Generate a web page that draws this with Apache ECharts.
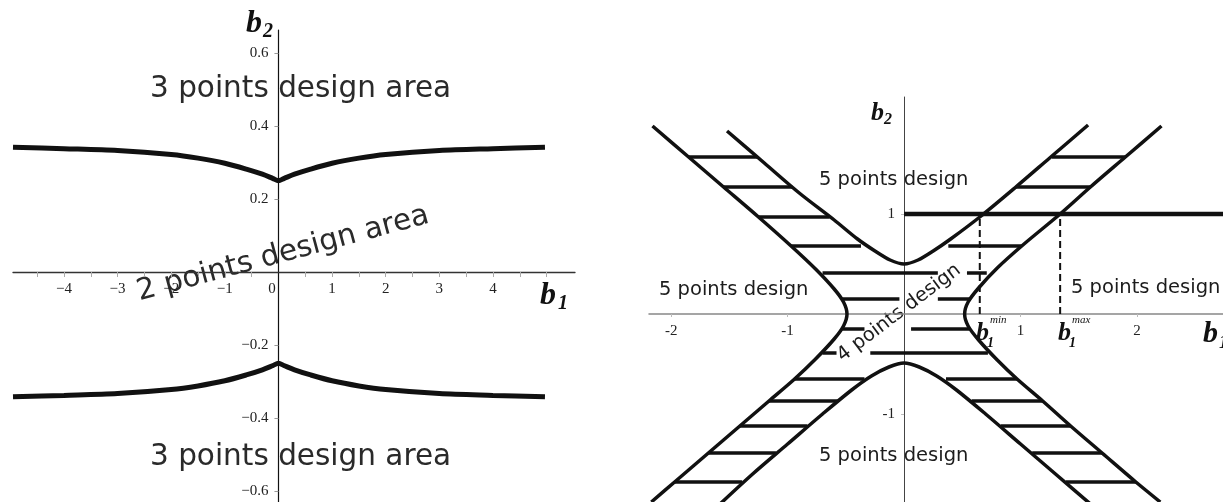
<!DOCTYPE html>
<html>
<head>
<meta charset="utf-8">
<script src="https://cdn.jsdelivr.net/npm/echarts@6/dist/echarts.min.js"></script>
<style>
html, body { margin: 0; padding: 0; background: #fff; }
#main { width: 1223px; height: 502px; }
</style>
</head>
<body>
<div id="main"></div>
<script>
// left plot: borders of the 2 / 3 points design areas
const leftB1 = [-4.95, -4, -3, -2, -1.5, -1, -0.6, -0.3, -0.1, 0, 0.1, 0.3, 0.6, 1, 1.5, 2, 3, 4, 4.97];
const upperB2 = [0.342, 0.338, 0.333, 0.322, 0.312, 0.298, 0.282, 0.268, 0.256, 0.25, 0.256, 0.268, 0.282, 0.298, 0.312, 0.322, 0.333, 0.338, 0.342];
const lowerB2 = [-0.342, -0.338, -0.333, -0.322, -0.312, -0.298, -0.282, -0.268, -0.256, -0.25, -0.256, -0.268, -0.282, -0.298, -0.312, -0.322, -0.333, -0.338, -0.342];
const leftXTicks = [-4, -3, -2, -1, 0, 1, 2, 3, 4];
const leftXMinor = [-4.5, -4, -3.5, -3, -2.5, -2, -1.5, -1, -0.5, 0.5, 1, 1.5, 2, 2.5, 3, 3.5, 4, 4.5, 5];
const leftYTicks = [-0.6, -0.4, -0.2, 0.2, 0.4, 0.6];

// right plot: 4 / 5 points design regions
const topCurveB1 = [-1.52, -1.2, -0.9, -0.6, -0.4, -0.25, -0.12, 0, 0.12, 0.25, 0.4, 0.65, 0.95, 1.25, 1.58];
const topCurveB2 = [1.83, 1.51, 1.21, 0.94, 0.75, 0.63, 0.54, 0.5, 0.54, 0.63, 0.75, 0.97, 1.26, 1.56, 1.89];
const botCurveB1 = [-1.58, -1.3, -1.0, -0.7, -0.45, -0.28, -0.13, 0, 0.13, 0.28, 0.45, 0.7, 1.0, 1.3, 1.62];
const botCurveB2 = [-1.9, -1.6, -1.3, -1.0, -0.76, -0.62, -0.53, -0.49, -0.53, -0.62, -0.76, -1.0, -1.3, -1.6, -1.92];
const leftSideB1 = [-2.16, -1.85, -1.55, -1.25, -0.97, -0.76, -0.6, -0.52, -0.49, -0.52, -0.6, -0.76, -0.94, -1.16, -1.41, -1.68, -1.97, -2.17];
const leftSideB2 = [1.88, 1.57, 1.27, 0.97, 0.68, 0.45, 0.25, 0.12, 0, -0.12, -0.25, -0.45, -0.65, -0.87, -1.12, -1.39, -1.68, -1.88];
const rightSideB1 = [2.21, 1.9, 1.6, 1.34, 1.02, 0.8, 0.64, 0.55, 0.52, 0.55, 0.64, 0.8, 0.97, 1.19, 1.43, 1.7, 1.99, 2.2];
const rightSideB2 = [1.88, 1.57, 1.27, 1.0, 0.69, 0.46, 0.26, 0.12, 0, -0.12, -0.26, -0.46, -0.65, -0.87, -1.12, -1.39, -1.68, -1.88];
// hatch strokes: one entry per segment
const hatchB2 = [1.57, 1.57, 1.27, 1.27, 0.97, 0.68, 0.68, 0.41, 0.41, 0.15, 0.15, -0.15, -0.15, -0.39, -0.39, -0.65, -0.65, -0.87, -0.87, -1.12, -1.12, -1.39, -1.39, -1.68, -1.68];
const hatchFrom = [-1.85, 1.27, -1.55, 0.96, -1.25, -0.97, 0.38, -0.7, 0.54, -0.53, 0.29, -0.53, 0.06, -0.7, -0.29, -0.94, 0.36, -1.16, 0.58, -1.41, 0.83, -1.68, 1.1, -1.97, 1.39];
const hatchTo = [-1.26, 1.9, -0.96, 1.6, -0.64, -0.37, 1.01, 0.29, 0.71, -0.04, 0.56, -0.34, 0.56, -0.58, 0.72, -0.34, 0.97, -0.57, 1.19, -0.83, 1.43, -1.1, 1.7, -1.39, 1.99];
const levelB2 = 1;
const levelFrom = 0;
const levelTo = 2.91;
const limitB1 = [0.65, 1.34]; // b1 min, b1 max
const rightXTicks = [-2, -1, 1, 2];
const rightYTicks = [-1, 1];

const zip = (xs, ys) => xs.map((x, i) => [x, ys[i]]);
const serif = 'Liberation Serif';
const sans = 'DejaVu Sans';

// grid boxes (px) and the axis ranges they hold
const G1 = { left: 13, top: 30, width: 562, height: 472 };
const X1 = [-4.95, 5.53], Y1 = [-0.63, 0.663];
const G2 = { left: 649, top: 97, width: 594, height: 415 };
const X2 = [-2.19, 2.91], Y2 = [-1.98, 2.17];

// shift axes onto the zero lines (offset from grid edge, negative = inward)
const zeroOffX = (g, y) => -(g.height * (0 - y[0]) / (y[1] - y[0]));
const zeroOffY = (g, x) => -(g.width * (0 - x[0]) / (x[1] - x[0]));

const chart = echarts.init(document.getElementById('main'), null, { renderer: 'canvas' });

const curve = (xi, data, width) => ({
    type: 'line',
    xAxisIndex: xi,
    yAxisIndex: xi,
    data: data,
    smooth: 0.3,
    showSymbol: false,
    symbol: 'none',
    lineStyle: { color: '#111', width: width },
    silent: true
});

const txt = (text, x, y, size, fill) => ({
    type: 'text',
    x: x,
    y: y,
    silent: true,
    style: {
        text: text,
        font: size + 'px "' + sans + '"',
        fill: fill || '#1c1c1c',
        textAlign: 'left',
        textVerticalAlign: 'middle'
    }
});

const bsym = (text, x, y, size) => ({
    type: 'text', x: x, y: y, silent: true,
    style: {
        text: text,
        font: 'italic bold ' + size + 'px "' + serif + '"',
        fill: '#111',
        textAlign: 'left',
        textVerticalAlign: 'middle'
    }
});

const option = {
    backgroundColor: '#fff',
    animation: false,
    grid: [
        Object.assign({ outerBoundsMode: 'none', containLabel: false }, G1),
        Object.assign({ outerBoundsMode: 'none', containLabel: false }, G2)
    ],
    xAxis: [
        {
            gridIndex: 0, type: 'value', min: X1[0], max: X1[1],
            position: 'bottom', offset: zeroOffX(G1, Y1),
            axisLine: { onZero: false, lineStyle: { color: '#333', width: 1.3 } },
            axisTick: { customValues: leftXMinor, length: 5, lineStyle: { color: '#aaa' } },
            axisLabel: {
                customValues: leftXTicks, margin: 10,
                fontFamily: serif, fontSize: 15, color: '#222',
                formatter: v => v === 0 ? '{z|0}' : String(v).replace('-', '\u2212'),
                rich: { z: { fontFamily: serif, fontSize: 15, color: '#222', padding: [0, 13, 0, 0] } }
            },
            splitLine: { show: false }
        },
        {
            gridIndex: 1, type: 'value', min: X2[0], max: X2[1],
            position: 'bottom', offset: zeroOffX(G2, Y2),
            axisLine: { onZero: false, lineStyle: { color: '#888', width: 1.5 } },
            axisTick: { customValues: rightXTicks, length: 3, lineStyle: { color: '#bbb' } },
            axisLabel: { customValues: rightXTicks, margin: 10, fontFamily: serif, fontSize: 15, color: '#222' },
            splitLine: { show: false }
        }
    ],
    yAxis: [
        {
            gridIndex: 0, type: 'value', min: Y1[0], max: Y1[1],
            position: 'left', offset: zeroOffY(G1, X1),
            axisLine: { onZero: false, lineStyle: { color: '#111', width: 1.2 } },
            axisTick: { customValues: leftYTicks, length: 4, lineStyle: { color: '#999' } },
            axisLabel: {
                customValues: leftYTicks, margin: 10,
                fontFamily: serif, fontSize: 15, color: '#222',
                formatter: v => v.toFixed(1).replace('-', '\u2212')
            },
            splitLine: { show: false }
        },
        {
            gridIndex: 1, type: 'value', min: Y2[0], max: Y2[1],
            position: 'left', offset: zeroOffY(G2, X2),
            axisLine: { onZero: false, lineStyle: { color: '#444', width: 1 } },
            axisTick: { customValues: rightYTicks, length: 3, lineStyle: { color: '#bbb' } },
            axisLabel: { customValues: rightYTicks, margin: 9, fontFamily: serif, fontSize: 15, color: '#222' },
            splitLine: { show: false }
        }
    ],
    series: [
        curve(0, zip(leftB1, upperB2), 5),
        curve(0, zip(leftB1, lowerB2), 5),
        curve(1, zip(topCurveB1, topCurveB2), 3.5),
        curve(1, zip(botCurveB1, botCurveB2), 3.5),
        curve(1, zip(leftSideB1, leftSideB2), 3.5),
        curve(1, zip(rightSideB1, rightSideB2), 3.5),
        {
            type: 'lines',
            coordinateSystem: 'cartesian2d',
            xAxisIndex: 1, yAxisIndex: 1,
            silent: true,
            lineStyle: { color: '#111', width: 3.5, opacity: 1 },
            data: hatchB2.map((b2, i) => ({ coords: [[hatchFrom[i], b2], [hatchTo[i], b2]] }))
        },
        {
            type: 'line', xAxisIndex: 1, yAxisIndex: 1, symbol: 'none', silent: true,
            data: [[levelFrom, levelB2], [levelTo, levelB2]],
            lineStyle: { color: '#111', width: 4.5 }
        },
        ...limitB1.map(b => ({
            type: 'line', xAxisIndex: 1, yAxisIndex: 1, symbol: 'none', silent: true,
            data: [[b, 0], [b, levelB2]],
            lineStyle: { color: '#111', width: 2, type: [7, 4] }
        }))
    ],
    graphic: [
        // left plot
        bsym('b', 246, 24, 32),
        bsym('2', 263, 32, 20),
        bsym('b', 540, 296, 32),
        bsym('1', 558, 304, 20),
        txt('3 points design area', 150, 89, 29.5, '#2a2a2a'),
        txt('3 points design area', 150, 457, 29.5, '#2a2a2a'),
        {
            type: 'text', x: 283, y: 254, rotation: 15 * Math.PI / 180, silent: true,
            style: { text: '2 points design area', font: '29.5px "DejaVu Sans"', fill: '#2a2a2a', textAlign: 'center', textVerticalAlign: 'middle' }
        },
        // right plot
        bsym('b', 871, 113, 26),
        bsym('2', 884, 120, 16),
        txt('5 points design', 819, 180, 19.5),
        txt('5 points design', 659, 290, 19.5),
        txt('5 points design', 1071, 288, 19.5),
        txt('5 points design', 819, 456, 19.5),
        {
            type: 'text', x: 899, y: 313, rotation: 37 * Math.PI / 180, silent: true,
            style: { text: '4 points design', font: '19.5px "DejaVu Sans"', fill: '#1c1c1c', textAlign: 'center', textVerticalAlign: 'middle' }
        },
        bsym('b', 976, 333, 26),
        bsym('1', 987, 343, 14),
        {
            type: 'text', x: 990, y: 320, silent: true,
            style: { text: 'min', font: 'italic 11px "Liberation Serif"', fill: '#111', textAlign: 'left', textVerticalAlign: 'middle' }
        },
        bsym('b', 1058, 333, 26),
        bsym('1', 1069, 343, 14),
        {
            type: 'text', x: 1072, y: 320, silent: true,
            style: { text: 'max', font: 'italic 11px "Liberation Serif"', fill: '#111', textAlign: 'left', textVerticalAlign: 'middle' }
        },
        bsym('b', 1203, 334, 30),
        bsym('1', 1219, 343, 18)
    ]
};

chart.setOption(option);
</script>
</body>
</html>
